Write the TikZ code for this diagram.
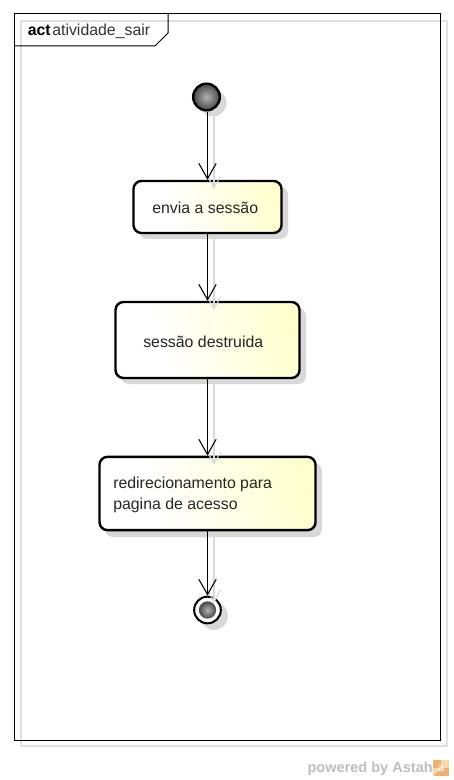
\documentclass[tikz,border=0pt]{standalone}
\usepackage{fontspec}
\setmainfont{Liberation Sans}
\usetikzlibrary{arrows.meta,shadings}
\definecolor{shadowgray}{HTML}{D8D8D8}
\definecolor{framegray}{HTML}{E0E0E0}
\definecolor{boxyellow}{HTML}{FFFFC4}
\definecolor{wm}{HTML}{BEBEBE}
\definecolor{logoA}{HTML}{F0B070}
\definecolor{logoB}{HTML}{F8D8A8}
\pgfdeclarehorizontalshading{boxfill}{100bp}{color(0bp)=(white); color(35bp)=(white); color(85bp)=(boxyellow); color(100bp)=(boxyellow)}
\tikzset{
  x=0.75pt,y=-0.75pt,
  lbl/.style={font=\fontsize{11.9pt}{14pt}\selectfont,text=black!85,inner sep=0pt,align=left},
  actbox/.style={draw=black,line width=1.8pt,rounded corners=6pt,shading=boxfill,shading angle=15},
  boxshadow/.style={fill=shadowgray,rounded corners=6pt},
  flow/.style={draw=black,line width=0.8pt,-{Straight Barb[length=11.5pt,width=13pt,line width=0.8pt]}},
  flowshadow/.style={draw=black!15,line width=0.8pt,-{Straight Barb[length=9pt,width=10pt,line width=0.8pt]}},
  dot/.style={circle,draw=black,line width=1.8pt,inner sep=0pt,shading=radial,inner color=black!30,outer color=black!72},
}
\begin{document}
\begin{tikzpicture}
\useasboundingbox (0,0) rectangle (453,780);
\fill[white] (0,0) rectangle (453,780);
% frame
\draw[framegray,line width=0.8pt] (21,21) rectangle (447,746);
\draw[black,line width=0.75pt] (14,14) rectangle (440,740);
\draw[black,line width=0.75pt] (14,46) -- (155,46) -- (168,33) -- (168,14);
\node[anchor=base west,inner sep=0pt,font=\fontsize{11.9pt}{13pt}\selectfont] (title) at (27.5,36) {\textbf{act}\hspace{1.2pt}\textcolor{black!80}{atividade\_sair}};
% shadows
\fill[shadowgray] (213,103) circle (13.5);
\fill[boxshadow] (139,187) rectangle (288,239);
\fill[boxshadow] (121,308) rectangle (306,384);
\fill[boxshadow] (105,463) rectangle (322,537);
\fill[shadowgray] (214,616) circle (14);
% nodes
\node[dot,minimum size=20pt] (start) at (206.5,97) {};
\node[actbox,minimum width=111pt,minimum height=39pt] (b1) at (207.5,207) {};
\node[actbox,minimum width=138pt,minimum height=57pt] (b2) at (207.5,340) {};
\node[actbox,minimum width=162pt,minimum height=55pt] (b3) at (207.5,493.5) {};
\node[circle,draw=black,line width=1.5pt,fill=white,minimum size=20pt,inner sep=0pt] (end) at (207.5,610) {};
\node[dot,draw=none,minimum size=13pt] (endcore) at (207.5,610) {};
% labels
\node[lbl,anchor=base west] (t1) at (152,213.5) {envia a sessão};
\node[lbl,anchor=base west] (t2) at (143,347) {sessão destruida};
\node[lbl,anchor=base west] (t3) at (113,488.5) {redirecionamento para};
\node[lbl,anchor=base west] (t4) at (113,509) {pagina de acesso};
% connector shadows
\coordinate (s0) at (214,113); \coordinate (s1) at (214,189);
\coordinate (s2) at (214,239); \coordinate (s3) at (214,310);
\coordinate (s4) at (214,384); \coordinate (s5) at (214,465);
\coordinate (s6) at (214,536); \coordinate (s7) at (214,603);
\draw[flowshadow] (s0) -- (s1);
\draw[flowshadow] (s2) -- (s3);
\draw[flowshadow] (s4) -- (s5);
\draw[flowshadow] (s6) -- (s7);
% connectors
\draw[flow] (start.south -| b1.north) -- (b1.north);
\draw[flow] (b1.south) -- (b2.north);
\draw[flow] (b2.south) -- (b3.north);
\draw[flow] (b3.south) -- (end.north);
% watermark
\node[anchor=base east,inner sep=0pt,text=wm,font=\fontsize{10.9pt}{13pt}\selectfont\bfseries] (wmark) at (433,772) {powered by Astah};
\fill[logoA] (433,760) rectangle (449,776);
\fill[logoB] (441,760) rectangle (449,768);
\fill[logoB] (433,768) -- (441,768) -- (433,776) -- cycle;
\node[inner sep=0pt,text=white,font=\fontsize{8pt}{8pt}\selectfont\bfseries] (logo) at (441,769) {a};
\end{tikzpicture}
\end{document}
